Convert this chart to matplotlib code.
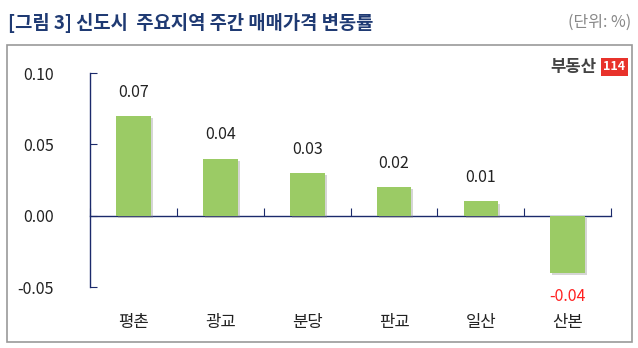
import matplotlib
matplotlib.use("Agg")
import matplotlib.pyplot as plt
import matplotlib.patheffects as pe
from matplotlib.patches import Rectangle
import matplotlib.transforms as mtransforms

plt.rcParams['font.family'] = ['Noto Sans CJK KR', 'DejaVu Sans']

regions = ['평촌', '광교', '분당', '판교', '일산', '산본']
changes = [0.07, 0.04, 0.03, 0.02, 0.01, -0.04]
yticks = [-0.05, 0.00, 0.05, 0.10]

navy = '#1b2a6b'
green = '#9bcb65'

fig = plt.figure(figsize=(6.38, 3.48), dpi=100)
ax = fig.add_axes([0.141, 0.175, 0.817, 0.615])

xs = range(len(regions))
bars = ax.bar(xs, changes, width=0.4, color=green, zorder=3)
for b in bars:
    b.set_path_effects([pe.SimplePatchShadow(offset=(1.5, -1.5), shadow_rgbFace='#888888', alpha=0.35),
                        pe.Normal()])

ax.set_xlim(-0.5, len(regions) - 0.5)
ax.set_ylim(-0.05, 0.10)

for s in ['top', 'right']:
    ax.spines[s].set_visible(False)
ax.spines['left'].set_color(navy)
ax.spines['bottom'].set_color(navy)
ax.spines['bottom'].set_position(('data', 0))
ax.spines['left'].set_linewidth(1.0)
ax.spines['bottom'].set_linewidth(1.0)

ax.set_yticks(yticks)
ax.set_yticklabels(['%.2f' % v for v in yticks], fontsize=11.5, color='#222222')
ax.tick_params(axis='y', direction='in', length=5, color=navy, pad=26)

ax.set_xticks([i - 0.5 for i in range(len(regions) + 1)])
ax.set_xticklabels([])
ax.tick_params(axis='x', direction='in', length=6, color=navy)

trans = mtransforms.blended_transform_factory(ax.transData, ax.transAxes)
for i, name in enumerate(regions):
    ax.text(i, -0.165, name, transform=trans, ha='center', va='center', fontsize=12, color='#222222')

for i, v in enumerate(changes):
    if v >= 0:
        ax.annotate('%.2f' % v, (i, v), xytext=(0, 11), textcoords='offset points',
                    ha='center', va='bottom', fontsize=11.5, color='#222222')
    else:
        ax.annotate('%.2f' % v, (i, v), xytext=(0, -11), textcoords='offset points',
                    ha='center', va='top', fontsize=11.5, color='#ff2020')

# outer frame
fig.patches.append(Rectangle((0.011, 0.017), 0.98, 0.853, transform=fig.transFigure,
                             fill=False, edgecolor='#999999', linewidth=1.2))

fig.text(0.012, 0.935, '[그림 3] 신도시  주요지역 주간 매매가격 변동률', fontsize=13.5,
         fontweight='bold', color='#1f3a73', ha='left', va='center')
fig.text(0.99, 0.935, '(단위: %)', fontsize=11.5, color='#888888', ha='right', va='center')

# logo
fig.text(0.935, 0.808, '부동산', fontsize=12, fontweight='heavy', color='#444444', ha='right', va='center')
fig.text(0.963, 0.808, '114', fontsize=9, fontweight='bold', color='white', ha='center', va='center',
         bbox=dict(boxstyle='square,pad=0.2', facecolor='#e8322b', edgecolor='none'))

fig.savefig('out.png', dpi=100)
